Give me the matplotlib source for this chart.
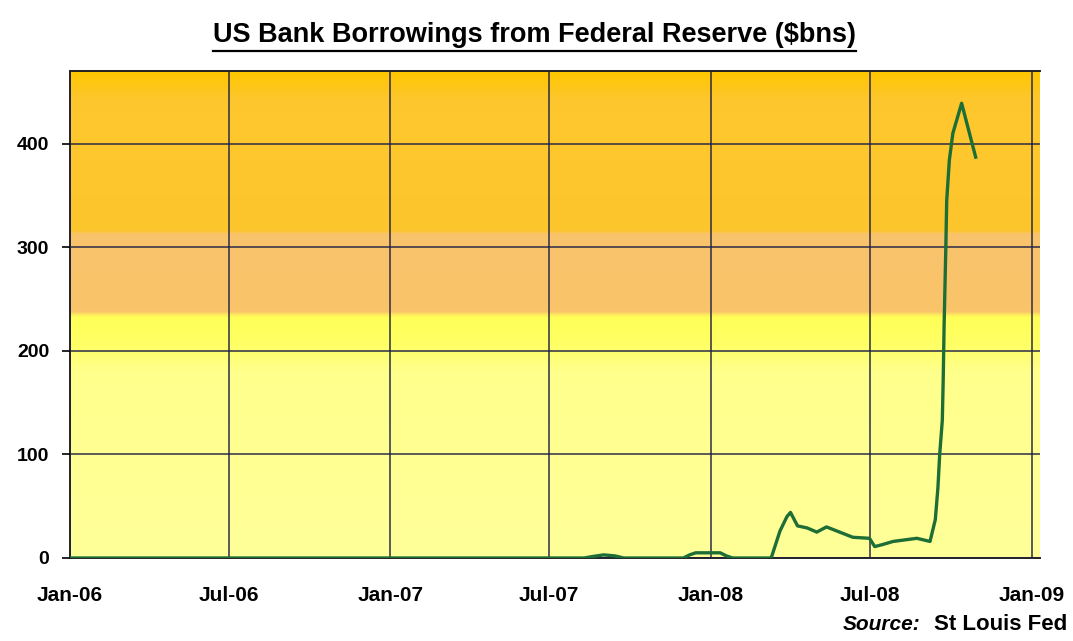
import numpy as np
import pandas as pd
import matplotlib
matplotlib.use('Agg')
import matplotlib.pyplot as plt
import matplotlib.dates as mdates
from matplotlib.colors import LinearSegmentedColormap

plt.rcParams['font.family'] = ['Liberation Sans', 'DejaVu Sans']

# weekly-ish readings of borrowings, $bn
dates = ['2006-01-01', '2007-08-10', '2007-08-20', '2007-09-01', '2007-09-14', '2007-09-24',
         '2007-12-01', '2007-12-08', '2007-12-15', '2008-01-12', '2008-01-19', '2008-01-26',
         '2008-03-10', '2008-03-20', '2008-03-28', '2008-04-01', '2008-04-09', '2008-04-20',
         '2008-05-01', '2008-05-12', '2008-05-27', '2008-06-11', '2008-06-30', '2008-07-06',
         '2008-07-15', '2008-07-27', '2008-08-23', '2008-09-07', '2008-09-13', '2008-09-16',
         '2008-09-18', '2008-09-21', '2008-09-22', '2008-09-23', '2008-09-25', '2008-09-26',
         '2008-09-29', '2008-10-03', '2008-10-13', '2008-10-29']
borrowings = [0, 0, 1.5, 3, 2, 0,
              0, 3, 5, 5, 2, 0,
              0, 26, 40, 44, 31, 29,
              25, 30, 25, 20, 19, 11,
              13, 16, 19, 16, 37, 68,
              100, 133, 172, 223, 300, 345,
              384, 410, 439, 387]

tick_dates = ['2006-01-01', '2006-07-01', '2007-01-01', '2007-07-01',
              '2008-01-01', '2008-07-01', '2009-01-01']
tick_labels = ['Jan-06', 'Jul-06', 'Jan-07', 'Jul-07', 'Jan-08', 'Jul-08', 'Jan-09']
y_ticks = [0, 100, 200, 300, 400]

df = pd.DataFrame({'date': pd.to_datetime(dates), 'value': borrowings})

fig = plt.figure(figsize=(10.73, 6.41), dpi=100)
ax = fig.add_axes([0.0652, 0.1295, 0.9038, 0.7595])

x0 = mdates.date2num(pd.Timestamp('2006-01-01'))
x1 = mdates.date2num(pd.Timestamp('2009-01-10'))
ymax = 470

# banded background, top to bottom
stops = [(470, '#FFC800'), (445, '#FDC62C'), (420, '#FEC82E'), (316, '#FDC52C'),
         (313, '#F9C46C'), (238, '#FAC36A'), (233, '#FFFF58'), (205, '#FFFF66'),
         (180, '#FFFF8C'), (0, '#FFFF99')]
pos = [1 - v / ymax for v, c in stops]
cmap = LinearSegmentedColormap.from_list('bands', list(zip(pos, [c for v, c in stops])))
grad = np.linspace(0, 1, 500).reshape(-1, 1)
ax.imshow(grad, cmap=cmap, extent=[x0, x1, 0, ymax], aspect='auto', zorder=0,
          interpolation='bilinear')

ax.plot(df['date'], df['value'], color='#1d6e36', lw=2.4, zorder=3)

ax.set_xlim(x0, x1)
ax.set_ylim(0, ymax)
ax.set_xticks(pd.to_datetime(tick_dates))
ax.set_xticklabels(tick_labels, fontsize=15, fontweight='bold')
ax.set_yticks(y_ticks)
ax.set_yticklabels([str(t) for t in y_ticks], fontsize=14, fontweight='bold')
ax.tick_params(axis='x', length=0, pad=20)
ax.tick_params(axis='y', length=6, width=1.2, pad=9, direction='out')
ax.grid(True, color='#202044', lw=1.3, alpha=0.8, zorder=1)
ax.set_axisbelow(False)

for s in ['top', 'left', 'bottom']:
    ax.spines[s].set_linewidth(1.4)
    ax.spines[s].set_color('#222222')
ax.spines['right'].set_visible(False)

# underlined title
title = fig.text(0.498, 0.945, 'US Bank Borrowings from Federal Reserve ($bns)',
                 ha='center', va='center', fontsize=19.5, fontweight='bold')
fig.canvas.draw()
bb = title.get_window_extent().transformed(fig.transFigure.inverted())
fig.add_artist(plt.Line2D([bb.x0, bb.x1], [bb.y0 - 0.004, bb.y0 - 0.004],
                          transform=fig.transFigure, color='black', lw=1.6))

fig.text(0.858, 0.025, 'Source:', ha='right', va='center', fontsize=15,
         fontweight='bold', style='italic')
fig.text(0.995, 0.025, 'St Louis Fed', ha='right', va='center', fontsize=16,
         fontweight='bold')

fig.savefig('out.png', dpi=100, facecolor='white')
